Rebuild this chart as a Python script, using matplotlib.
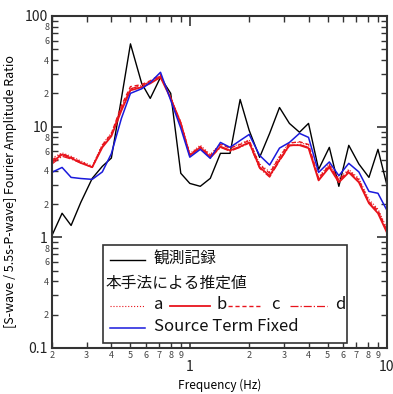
import numpy as np
import matplotlib
matplotlib.use('Agg')
import matplotlib.pyplot as plt
from matplotlib.ticker import LogLocator, FuncFormatter
from matplotlib.lines import Line2D
from matplotlib.patches import Rectangle

plt.rcParams['font.family'] = ['Noto Sans CJK JP', 'DejaVu Sans']

# Datos
freq = [0.2, 0.225, 0.25, 0.28, 0.32, 0.36, 0.4, 0.45, 0.5, 0.57, 0.63, 0.71, 0.8, 0.9, 1.0,
        1.13, 1.27, 1.43, 1.6, 1.8, 2.0, 2.26, 2.54, 2.85, 3.2, 3.6, 4.0, 4.5, 5.1, 5.7,
        6.4, 7.2, 8.1, 9.0, 10.0]
obs = [1.04, 1.65, 1.28, 2.07, 3.41, 4.38, 5.2, 18, 56, 24.6, 18.0, 27.9, 20, 3.79, 3.07,
       2.89, 3.41, 5.74, 5.74, 17.6, 9.26, 5.28, 8.7, 14.9, 10.7, 8.9, 10.7, 4.11, 6.5, 2.89,
       6.78, 4.6, 3.48, 6.24, 2.95]
est_a = [5.2, 5.8, 5.4, 4.9, 4.4, 6.9, 8.8, 15, 22, 23, 25, 29, 18.5, 11, 5.7,
         6.8, 5.6, 7.0, 6.5, 7.0, 7.6, 4.6, 3.9, 5.4, 7.2, 7.2, 6.8, 3.5, 4.6, 3.4,
         4.1, 3.4, 2.2, 1.8, 1.2]
est_b = [4.8, 5.6, 5.2, 4.7, 4.3, 6.5, 8.2, 14, 21.3, 22.7, 24.6, 28, 18, 10.7, 5.5,
         6.5, 5.3, 6.6, 6.1, 6.6, 7.2, 4.3, 3.6, 5.0, 6.8, 6.8, 6.4, 3.27, 4.3, 3.14,
         3.86, 3.14, 2.03, 1.65, 1.1]
est_c = [5.0, 5.7, 5.3, 4.8, 4.3, 6.8, 8.6, 15.5, 23, 24, 26, 29.5, 18, 10.8, 5.6,
         6.6, 5.5, 6.9, 6.4, 6.9, 7.5, 4.5, 3.8, 5.3, 7.1, 7.3, 6.9, 3.4, 4.5, 3.3,
         4.0, 3.3, 2.1, 1.75, 1.15]
est_d = [4.6, 5.4, 5.1, 4.7, 4.3, 6.6, 8.4, 14.5, 22, 23.5, 25.5, 28.5, 18, 10.7, 5.5,
         6.4, 5.2, 6.5, 6.0, 6.5, 7.1, 4.2, 3.5, 4.9, 6.7, 6.9, 6.5, 3.3, 4.4, 3.2,
         3.9, 3.2, 2.05, 1.7, 1.12]
fixed = [3.87, 4.28, 3.48, 3.4, 3.34, 3.9, 5.7, 11.9, 20, 22, 25, 31, 17.3, 9.7, 5.3,
         6.24, 5.17, 7.2, 6.5, 7.5, 8.5, 5.5, 4.5, 6.4, 7.2, 8.7, 8.0, 3.86, 4.8, 3.6,
         4.66, 3.9, 2.6, 2.5, 1.75]

red = '#e8141c'
fig = plt.figure(figsize=(3.93, 3.94), dpi=100)
ax = fig.add_axes([0.1323, 0.1168, 0.8524, 0.8426])

ax.plot(freq, obs, color='black', lw=1.0)
ax.plot(freq, est_a, color=red, lw=0.8, ls=':')
ax.plot(freq, est_c, color=red, lw=1.0, ls=(0, (3, 2)))
ax.plot(freq, est_d, color=red, lw=0.9, ls='-.')
ax.plot(freq, est_b, color=red, lw=1.3)
ax.plot(freq, fixed, color='#1a1adc', lw=1.1)

ax.set_xscale('log')
ax.set_yscale('log')
ax.set_xlim(0.2, 10)
ax.set_ylim(0.1, 100)

# Ticks
def xminor(v, pos):
    m = v / 10 ** np.floor(np.log10(v) + 1e-9)
    return '%d' % round(m)

def yminor(v, pos):
    m = round(v / 10 ** np.floor(np.log10(v) + 1e-9))
    return '%d' % m if m in (2, 4, 6, 8) else ''

def major(v, pos):
    return '%g' % v

ax.xaxis.set_major_locator(LogLocator(base=10, numticks=10))
ax.xaxis.set_minor_locator(LogLocator(base=10, subs=np.arange(2, 10), numticks=10))
ax.xaxis.set_major_formatter(FuncFormatter(major))
ax.xaxis.set_minor_formatter(FuncFormatter(xminor))
ax.yaxis.set_major_locator(LogLocator(base=10, numticks=10))
ax.yaxis.set_minor_locator(LogLocator(base=10, subs=np.arange(2, 10), numticks=10))
ax.yaxis.set_major_formatter(FuncFormatter(major))
ax.yaxis.set_minor_formatter(FuncFormatter(yminor))

ax.tick_params(which='both', direction='in', top=True, right=True, color='#333333')
ax.tick_params(which='major', length=7, width=1.2, labelsize=10, pad=9, labelcolor='#222222')
ax.tick_params(which='minor', length=4, width=1.0, labelsize=6.5, pad=2, labelcolor='#444444')
ax.tick_params(axis='y', which='major', pad=3)
for s in ax.spines.values():
    s.set_linewidth(1.5)
    s.set_color('#333333')

ax.set_xlabel('Frequency (Hz)', fontsize=8.5)
ax.xaxis.set_label_coords(0.5, -0.092)
ax.set_ylabel('[S-wave / 5.5s-P-wave] Fourier Amplitude Ratio', fontsize=9)
ax.yaxis.set_label_coords(-0.105, 0.47)

# Leyenda dibujada a mano
def px(x, y):
    return ((x - 52) / 335.0, (348 - y) / 332.0)

x0, y0 = px(103, 343)
x1, y1 = px(347, 245)
ax.add_patch(Rectangle((x0, y0), x1 - x0, y1 - y0, transform=ax.transAxes,
                       facecolor='white', edgecolor='#333333', lw=1.2, zorder=5))

def handle(xa, xb, y, **kw):
    p, q = px(xa, y), px(xb, y)
    ax.add_line(Line2D([p[0], q[0]], [p[1], q[1]], transform=ax.transAxes, zorder=6, **kw))

def label(x, y, s, size=11.3):
    p = px(x, y)
    ax.text(p[0], p[1], s, transform=ax.transAxes, fontsize=size, va='center', ha='left',
            zorder=6, color='#111111')

handle(110, 145, 260, color='black', lw=1.0)
label(154, 259, '観測記録')
label(106, 283, '本手法による推定値')
handle(110, 145, 306, color=red, lw=0.8, ls=':')
label(154, 305, 'a', 12)
handle(170, 210, 306, color=red, lw=1.3)
label(217, 305, 'b', 12)
handle(228, 262, 306, color=red, lw=1.0, ls=(0, (3, 2)))
label(271, 305, 'c', 12)
handle(290, 327, 306, color=red, lw=0.9, ls='-.')
label(335, 305, 'd', 12)
handle(110, 145, 328, color='#1a1adc', lw=1.1)
label(154, 327, 'Source Term Fixed', 12)

fig.savefig('out.png', dpi=100)
